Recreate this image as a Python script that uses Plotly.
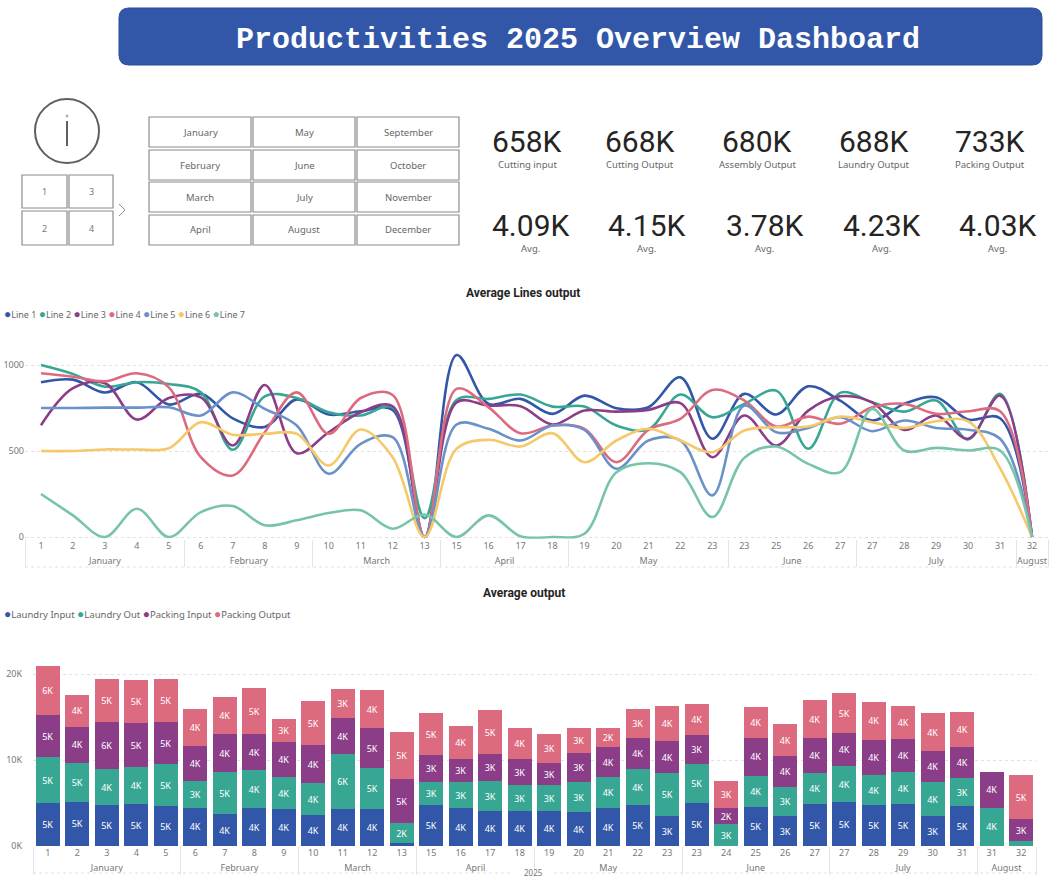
import plotly.graph_objects as go

W, H = 1057, 881

# ---------------- DATA ----------------
kpi_values = ["658K", "668K", "680K", "688K", "733K"]
kpi_labels = ["Cutting input", "Cutting Output", "Assembly Output", "Laundry Output", "Packing Output"]
avg_values = ["4.09K", "4.15K", "3.78K", "4.23K", "4.03K"]

slicer_months = [["January", "February", "March", "April"],
                 ["May", "June", "July", "August"],
                 ["September", "October", "November", "December"]]
slicer_quarters = [["1", "2"], ["3", "4"]]

line_months = (["January"] * 5 + ["February"] * 4 + ["March"] * 4 + ["April"] * 4 +
               ["May"] * 5 + ["June"] * 4 + ["July"] * 5 + ["August"])
line_weeks = ["1", "2", "3", "4", "5", "6", "7", "8", "9", "10", "11", "12", "13",
              "15", "16", "17", "18", "19", "20", "21", "22", "23",
              "23", "25", "26", "27", "27", "28", "29", "30", "31", "32"]

line_names = ["Line 1", "Line 2", "Line 3", "Line 4", "Line 5", "Line 6", "Line 7"]
line_colors = ["#3257A8", "#37A794", "#8B3D88", "#DD6B7F", "#6B91C9", "#F5C869", "#77C4A8"]

line1 = [900, 915, 840, 900, 770, 832, 690, 640, 800, 712, 731, 739, 0, 1058, 774, 803, 716,
         822, 749, 754, 928, 571, 832, 712, 876, 793, 677, 774, 812, 683, 690, 0]
line2 = [1000, 948, 874, 900, 890, 841, 507, 818, 808, 725, 706, 754, 110, 797, 803, 828, 758,
         758, 648, 625, 828, 696, 774, 851, 513, 838, 783, 729, 793, 567, 832, 0]
line3 = [650, 865, 894, 683, 808, 812, 532, 884, 487, 609, 725, 760, 0, 783, 764, 760, 654,
         735, 729, 739, 778, 464, 706, 532, 735, 818, 783, 623, 706, 571, 822, 0]
line4 = [952, 932, 905, 952, 870, 464, 358, 609, 841, 600, 808, 826, 0, 861, 754, 603, 648,
         629, 435, 623, 687, 855, 793, 642, 700, 658, 754, 774, 716, 731, 731, 0]
line5 = [750, 750, 752, 752, 754, 706, 841, 745, 648, 368, 542, 580, 0, 654, 629, 561, 648,
         623, 397, 561, 561, 242, 764, 609, 634, 696, 615, 677, 634, 623, 571, 0]
line6 = [500, 500, 509, 509, 516, 667, 594, 600, 600, 416, 625, 464, 0, 513, 565, 526, 603,
         435, 561, 629, 561, 493, 619, 638, 642, 700, 667, 634, 673, 673, 400, 0]
line7 = [250, 126, 0, 164, 0, 145, 180, 68, 97, 139, 155, 48, 131, 0, 126, 4, 0,
         19, 377, 429, 377, 116, 460, 526, 425, 377, 745, 503, 518, 503, 503, 0]
line_series = [line1, line2, line3, line4, line5, line6, line7]

bar_months = (["January"] * 5 + ["February"] * 4 + ["March"] * 4 + ["April"] * 4 +
              ["May"] * 5 + ["June"] * 5 + ["July"] * 5 + ["August"] * 2)
bar_weeks = ["1", "2", "3", "4", "5", "6", "7", "8", "9", "10", "11", "12", "13",
             "15", "16", "17", "18", "19", "20", "21", "22", "23",
             "23", "24", "25", "26", "27", "27", "28", "29", "30", "31", "31", "32"]

bar_names = ["Laundry Input", "Laundry Out", "Packing Input", "Packing Output"]
bar_colors = ["#3257A8", "#37A794", "#8B3D88", "#DD6B7F"]

laundry_input = [5000, 5120, 4730, 4840, 4610, 4450, 3680, 4380, 4260, 3570, 4260, 4260, 310,
                 4730, 4380, 4030, 4030, 4030, 3910, 4380, 4730, 3450, 4960, 0, 4550, 3450, 4840,
                 5080, 4730, 4840, 3450, 4610, 0, 0]
laundry_out = [5310, 4550, 4190, 4340, 4880, 3140, 4880, 4420, 3720, 3720, 6400, 4770, 2330,
               2670, 3020, 3490, 3020, 3020, 3490, 3600, 4190, 5000, 4530, 2520, 3600, 3370, 3600,
               4190, 3520, 3720, 3950, 3260, 4450, 540]
packing_input = [4880, 4220, 5500, 5080, 4880, 4070, 4420, 4190, 4070, 4420, 4190, 4650, 5120,
                 3140, 2670, 3140, 3020, 2560, 3370, 3520, 3600, 3720, 3450, 1860, 4420, 3600, 4070,
                 3840, 4070, 3840, 3600, 3600, 4190, 2560]
packing_output = [5700, 3680, 5000, 5000, 5000, 4300, 4300, 5350, 2670, 5120, 3370, 4450, 5450,
                  4880, 3840, 5120, 3600, 3370, 2910, 2210, 3370, 4070, 3600, 3140, 3600, 3720, 4420,
                  4650, 4450, 3840, 4420, 4070, 0, 5120]
bar_series = [laundry_input, laundry_out, packing_input, packing_output]

bar_tickvals = [0, 10000, 20000]
line_tickvals = [0, 500, 1000]

# ---------------- HELPERS ----------------
def px(x):
    return x / W


def py(y):
    return 1 - y / H


FONT = "Segoe UI, Noto Sans, sans-serif"
KPI_FONT = "DIN, Roboto, sans-serif"
GREY = "#666666"

shapes = []
annotations = []


def box(x0, y0, x1, y1, color="#8C8C8C", width=1.2):
    shapes.append(dict(type="rect", xref="paper", yref="paper",
                       x0=px(x0), x1=px(x1), y0=py(y1), y1=py(y0),
                       line=dict(color=color, width=width), fillcolor="white", layer="below"))


def hline(x0, x1, y, color="#E2E2E2", dash="dot"):
    shapes.append(dict(type="line", xref="paper", yref="paper", x0=px(x0), x1=px(x1),
                       y0=py(y), y1=py(y), line=dict(color=color, width=1, dash=dash)))


def text(x, y, s, size=10, color=GREY, family=FONT, xanchor="center", yanchor="middle"):
    annotations.append(dict(xref="paper", yref="paper", x=px(x), y=py(y), text=s,
                            showarrow=False, xanchor=xanchor, yanchor=yanchor,
                            font=dict(size=size, color=color, family=family)))


def rounded_path(x0, y0, x1, y1, r):
    def P(x, y):
        return f"{px(x):.5f},{py(y):.5f}"
    return (f"M {P(x0 + r, y0)} L {P(x1 - r, y0)} Q {P(x1, y0)} {P(x1, y0 + r)} "
            f"L {P(x1, y1 - r)} Q {P(x1, y1)} {P(x1 - r, y1)} L {P(x0 + r, y1)} "
            f"Q {P(x0, y1)} {P(x0, y1 - r)} L {P(x0, y0 + r)} Q {P(x0, y0)} {P(x0 + r, y0)} Z")


# ---------------- HEADER ----------------
shapes.append(dict(type="path", xref="paper", yref="paper",
                   path=rounded_path(119, 8, 1042, 65, 10),
                   fillcolor="#3257A8", line=dict(color="#2C4E99", width=1)))
text(578, 40, "<b>Productivities 2025 Overview Dashboard</b>", size=30, color="white",
     family="Liberation Mono, Courier New, monospace")

# ---------------- INFO ICON + SLICERS ----------------
shapes.append(dict(type="circle", xref="paper", yref="paper",
                   x0=px(35), x1=px(99), y0=py(163), y1=py(99),
                   line=dict(color="#5F5F5F", width=2)))
shapes.append(dict(type="line", xref="paper", yref="paper",
                   x0=px(67), x1=px(67), y0=py(121), y1=py(146),
                   line=dict(color="#5F5F5F", width=2)))
shapes.append(dict(type="circle", xref="paper", yref="paper",
                   x0=px(66), x1=px(68), y0=py(117), y1=py(115),
                   line=dict(color="#9A9A9A", width=1)))

q_cols = [(22, 67), (69, 113)]
q_rows = [(175, 208), (211, 245)]
for ci, (cx0, cx1) in enumerate(q_cols):
    for ri, (ry0, ry1) in enumerate(q_rows):
        box(cx0, ry0, cx1, ry1)
        text((cx0 + cx1) / 2, (ry0 + ry1) / 2, slicer_quarters[ci][ri], size=9, color="#777777")

shapes.append(dict(type="path", xref="paper", yref="paper",
                   path=f"M {px(119)},{py(204)} L {px(125)},{py(210)} L {px(119)},{py(216)}",
                   line=dict(color="#8C8C8C", width=1)))

m_cols = [(149, 251), (253, 355), (357, 459)]
m_rows = [(117, 147), (150, 180), (182, 212), (215, 245)]
for ci, (cx0, cx1) in enumerate(m_cols):
    for ri, (ry0, ry1) in enumerate(m_rows):
        box(cx0, ry0, cx1, ry1)
        text((cx0 + cx1) / 2, (ry0 + ry1) / 2, slicer_months[ci][ri], size=9.5, color="#666666")

# ---------------- KPI CARDS ----------------
kpi_x_top = [527, 640, 757, 874, 990]
kpi_x_bot = [530, 646, 764, 881, 997]
for i in range(5):
    text(kpi_x_top[i], 141, kpi_values[i], size=30, color="#252423", family=KPI_FONT)
    text(kpi_x_top[i], 164, kpi_labels[i], size=9.5, color="#666666")
    text(kpi_x_bot[i], 225, avg_values[i], size=30, color="#252423", family=KPI_FONT)
    text(kpi_x_bot[i], 248, "Avg.", size=9.5, color="#666666")

# ---------------- CHART TITLES & LEGENDS ----------------
text(523, 293, "<b>Average Lines output</b>", size=12, color="#252423", family="Roboto, sans-serif")
text(524, 593, "<b>Average output</b>", size=12, color="#252423", family="Roboto, sans-serif")

leg1 = " ".join(f"<span style='color:{c};font-size:12px'>●</span>{n}"
                for n, c in zip(line_names, line_colors))
text(2, 313, leg1, size=9, color="#666666", xanchor="left")
leg2 = " ".join(f"<span style='color:{c};font-size:12px'>●</span>{n}"
                for n, c in zip(bar_names, bar_colors))
text(2, 613, leg2, size=9.5, color="#666666", xanchor="left")

text(533, 880, "2025", size=8, color="#777777", yanchor="bottom")

# dotted frame lines under the hierarchical axes
hline(25, 1048, 567)
hline(33, 512, 873)
hline(554, 1036, 873)

# ---------------- FIGURE ----------------
fig = go.Figure()

for name, color, vals in zip(line_names, line_colors, line_series):
    fig.add_trace(go.Scatter(
        x=[line_months, line_weeks], y=vals, name=name, mode="lines",
        line=dict(color=color, width=2.6, shape="spline", smoothing=1.0),
        xaxis="x", yaxis="y", showlegend=False))

for name, color, vals in zip(bar_names, bar_colors, bar_series):
    labels = [f"{int(v / 1000 + 0.5)}K" if v >= 1000 else "" for v in vals]
    fig.add_trace(go.Bar(
        x=[bar_months, bar_weeks], y=vals, name=name, marker=dict(color=color, line=dict(width=0)),
        text=labels, textposition="inside", insidetextanchor="middle", textangle=0,
        constraintext="none", textfont=dict(color="white", size=9, family=FONT),
        xaxis="x2", yaxis="y2", showlegend=False))

# line chart geometry: 0 -> y=537px, 1000 -> y=365px
lpu = 0.172
l_bottom = 537 + 10 * lpu
l_top = 537 - 1150 * lpu
# bar chart geometry: 0 -> 846px, 10K -> 760px
bpu = 0.0086
b_bottom = 846
b_top = 846 - 25000 * bpu

axis_font = dict(size=9, color="#777777", family=FONT)

fig.update_layout(
    width=W, height=H, margin=dict(l=0, r=0, t=0, b=0, autoexpand=False),
    paper_bgcolor="white", plot_bgcolor="white",
    barmode="stack", bargap=0.19,
    font=dict(family=FONT, color=GREY),
    shapes=shapes, annotations=annotations,
    xaxis=dict(domain=[px(25), px(1048)], type="multicategory", range=[-0.5, len(line_weeks) - 0.5],
               showgrid=False, showline=False, zeroline=False, ticks="", tickfont=axis_font,
               showdividers=True, dividercolor="#E4E4E4", dividerwidth=1, anchor="y",
               automargin=False),
    yaxis=dict(domain=[py(l_bottom), py(l_top)], range=[-10, 1150], tickvals=line_tickvals,
               tickformat="d", showgrid=True, gridcolor="#E2E2E2", griddash="dot", gridwidth=1,
               zeroline=False, showline=False, tickfont=axis_font, anchor="x", automargin=False),
    xaxis2=dict(domain=[px(33), px(1036)], type="multicategory", range=[-0.5, len(bar_weeks) - 0.5],
                showgrid=False, showline=False, zeroline=False, ticks="", tickfont=axis_font,
                showdividers=True, dividercolor="#E4E4E4", dividerwidth=1, anchor="y2",
                automargin=False),
    yaxis2=dict(domain=[py(b_bottom), py(b_top)], range=[0, 25000], tickvals=bar_tickvals,
                ticktext=[f"{v // 1000}K" for v in bar_tickvals], ticklabelstandoff=10,
                showgrid=True, gridcolor="#E2E2E2", griddash="dot", gridwidth=1,
                zeroline=False, showline=False, tickfont=axis_font, anchor="x2", automargin=False),
)

post = ("var s=document.createElement('style');"
        "s.innerHTML='html,body{margin:0!important;padding:0!important;overflow:hidden!important;"
        "width:1057px;height:881px;}';document.head.appendChild(s);"
        "var d=document.querySelector('.plotly-graph-div');"
        "if(d){d.style.position='fixed';d.style.left='0px';d.style.top='0px';"
        "if(d.parentElement){d.parentElement.style.height='0px';d.parentElement.style.overflow='visible';}}")
fig.write_html("out.html", config={"displayModeBar": False}, post_script=post)
